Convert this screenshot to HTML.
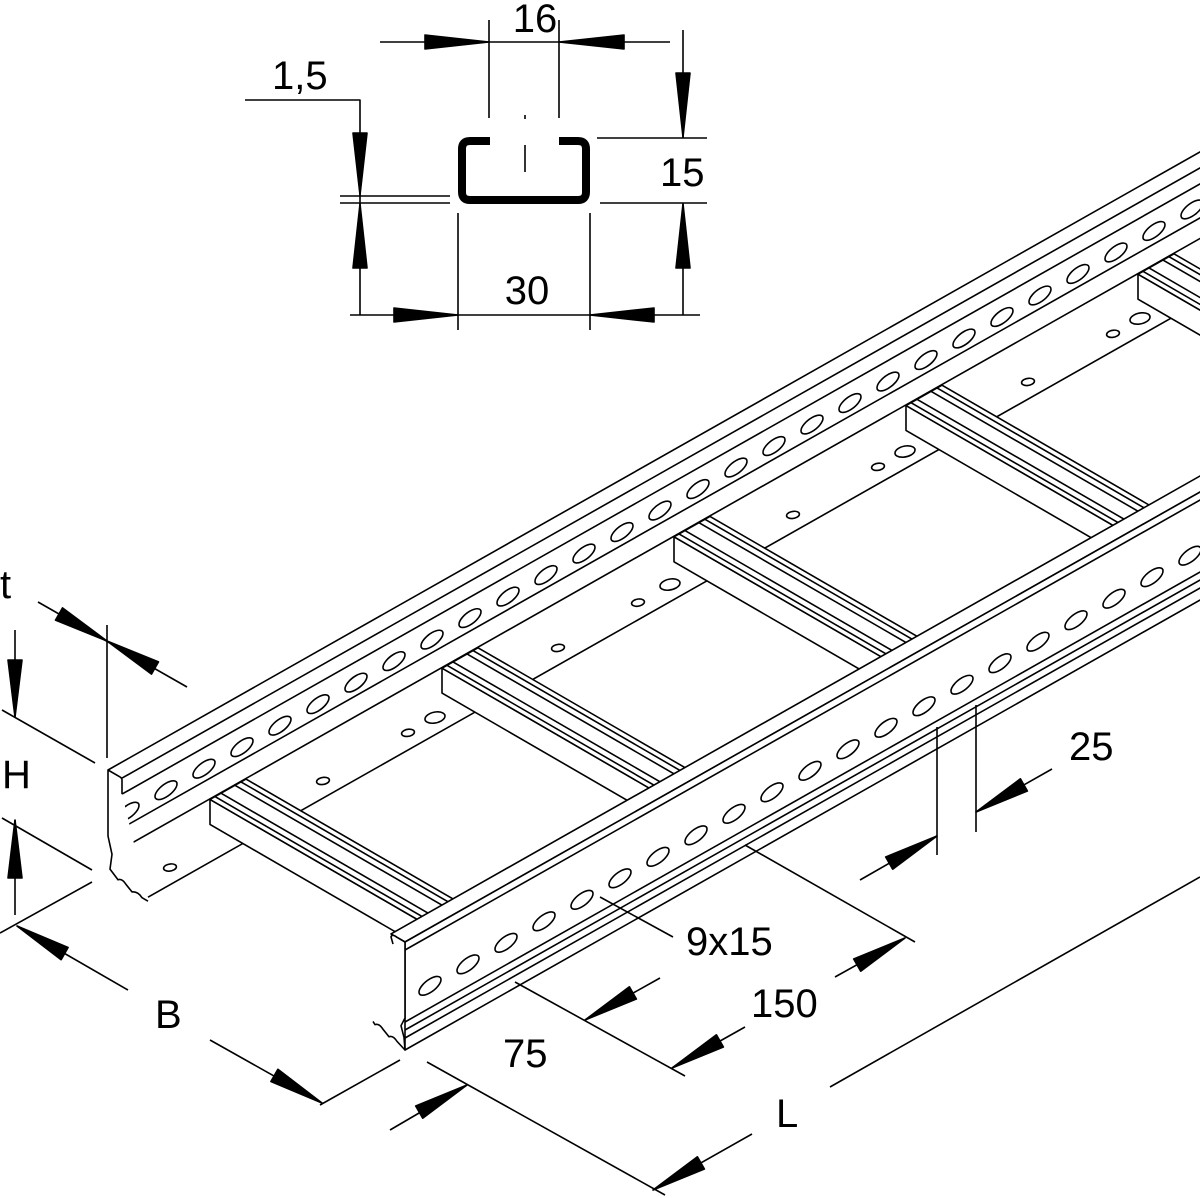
<!DOCTYPE html>
<html><head><meta charset="utf-8"><style>
html,body{margin:0;padding:0;background:#fff}
svg{display:block}
svg *{vector-effect:non-scaling-stroke}
text{font-family:"Liberation Sans",Arial,sans-serif;font-size:40px;fill:#000;stroke:none}
</style></head><body>
<svg width="1200" height="1198" viewBox="0 0 1200 1198" xmlns="http://www.w3.org/2000/svg" fill="none" stroke="#000" stroke-width="1.6" stroke-linejoin="round">
<rect x="0" y="0" width="1200" height="1198" fill="#fff" stroke="none"/>

<!-- ============ TOP PROFILE ============ -->
<path d="M490,141 L470,141 Q462,141 462,149 L462,192 Q462,200 470,200 L578,200 Q586,200 586,192 L586,149 Q586,141 578,141 L559,141" stroke-width="8" stroke-linejoin="round"/>
<line x1="525" y1="145" x2="525" y2="172"/>
<line x1="525" y1="115" x2="525" y2="119"/>
<!-- 16 -->
<line x1="380" y1="42" x2="670" y2="42"/>
<line x1="489" y1="20" x2="489" y2="118"/>
<line x1="559" y1="20" x2="559" y2="118"/>
<polygon points="489,42 425,35 425,49" fill="#000"/>
<polygon points="559,42 624,35 624,49" fill="#000"/>
<text x="535" y="32" text-anchor="middle">16</text>
<!-- 1,5 -->
<polyline points="245,100 360,100 360,315"/>
<line x1="340" y1="196" x2="450" y2="196"/>
<line x1="340" y1="203" x2="450" y2="203"/>
<polygon points="360,195 353,133 367,133" fill="#000"/>
<polygon points="360,204 353,268 367,268" fill="#000"/>
<text x="272" y="89">1,5</text>
<!-- 15 -->
<line x1="683" y1="30" x2="683" y2="138"/>
<line x1="683" y1="204" x2="683" y2="315"/>
<line x1="597" y1="138" x2="707" y2="138"/>
<line x1="600" y1="203" x2="707" y2="203"/>
<polygon points="683,137 676,73 690,73" fill="#000"/>
<polygon points="683,204 676,268 690,268" fill="#000"/>
<text x="660" y="186">15</text>
<!-- 30 -->
<line x1="350" y1="315" x2="700" y2="315"/>
<line x1="458" y1="213" x2="458" y2="330"/>
<line x1="590" y1="213" x2="590" y2="330"/>
<polygon points="458,315 394,308 394,322" fill="#000"/>
<polygon points="590,315 654,308 654,322" fill="#000"/>
<text x="527" y="304" text-anchor="middle">30</text>

<!-- ============ BACK RAIL ============ -->
<g transform="matrix(1,-0.566,0,1,108,770)">
  <line x1="0" y1="0" x2="1300" y2="0"/>
  <line x1="0" y1="66" x2="1300" y2="66"/>
  <g>
    <ellipse cx="20" cy="53" rx="11" ry="7"/><ellipse cx="58" cy="53" rx="11" ry="7"/><ellipse cx="96" cy="53" rx="11" ry="7"/><ellipse cx="134" cy="53" rx="11" ry="7"/><ellipse cx="172" cy="53" rx="11" ry="7"/><ellipse cx="210" cy="53" rx="11" ry="7"/><ellipse cx="248" cy="53" rx="11" ry="7"/><ellipse cx="286" cy="53" rx="11" ry="7"/><ellipse cx="324" cy="53" rx="11" ry="7"/><ellipse cx="362" cy="53" rx="11" ry="7"/><ellipse cx="400" cy="53" rx="11" ry="7"/><ellipse cx="438" cy="53" rx="11" ry="7"/><ellipse cx="476" cy="53" rx="11" ry="7"/><ellipse cx="514" cy="53" rx="11" ry="7"/><ellipse cx="552" cy="53" rx="11" ry="7"/><ellipse cx="590" cy="53" rx="11" ry="7"/><ellipse cx="628" cy="53" rx="11" ry="7"/><ellipse cx="666" cy="53" rx="11" ry="7"/><ellipse cx="704" cy="53" rx="11" ry="7"/><ellipse cx="742" cy="53" rx="11" ry="7"/><ellipse cx="780" cy="53" rx="11" ry="7"/><ellipse cx="818" cy="53" rx="11" ry="7"/><ellipse cx="856" cy="53" rx="11" ry="7"/><ellipse cx="894" cy="53" rx="11" ry="7"/><ellipse cx="932" cy="53" rx="11" ry="7"/><ellipse cx="970" cy="53" rx="11" ry="7"/><ellipse cx="1008" cy="53" rx="11" ry="7"/><ellipse cx="1046" cy="53" rx="11" ry="7"/><ellipse cx="1084" cy="53" rx="11" ry="7"/><ellipse cx="1122" cy="53" rx="11" ry="7"/>
  </g>
</g>
<g transform="matrix(1,-0.566,0,1,122,778.1)">
  <line x1="0" y1="0" x2="1300" y2="0"/>
  <line x1="0" y1="16" x2="1300" y2="16"/>
</g>
<g transform="matrix(1,-0.566,0,1,112,772.3)">
  <line x1="0" y1="82" x2="1300" y2="82"/>
</g>
<g transform="matrix(1,-0.566,0,1,148,793.2)">
  <line x1="0" y1="104" x2="1300" y2="104"/>
</g>
<!-- back rail end profile -->
<g transform="matrix(1,0.579,0,1,108,770)">
  <path d="M14,16 L14,2 Q14,0 12,0 L0,0 L0,66 L4,82 L2,98 L10,104 Q14,100 18,104 L24,108 Q30,104 34,108 L40,108" fill="#fff"/>
</g>
<!-- floor flange holes -->
<g transform="matrix(1,-0.566,1,0.579,108,874)">
  <ellipse cx="37" cy="25" rx="5" ry="4"/><ellipse cx="190" cy="25" rx="5" ry="4"/><ellipse cx="275" cy="25" rx="5" ry="4"/><ellipse cx="302" cy="25" rx="8" ry="6"/><ellipse cx="425" cy="25" rx="5" ry="4"/><ellipse cx="505" cy="25" rx="5" ry="4"/><ellipse cx="537" cy="25" rx="8" ry="6"/><ellipse cx="660" cy="25" rx="5" ry="4"/><ellipse cx="745" cy="25" rx="5" ry="4"/><ellipse cx="772" cy="25" rx="8" ry="6"/><ellipse cx="895" cy="25" rx="5" ry="4"/><ellipse cx="980" cy="25" rx="5" ry="4"/><ellipse cx="1007" cy="25" rx="8" ry="6"/>
</g>

<!-- ============ RUNGS ============ -->
<g transform="matrix(1,0.579,0,1,1123,195.5)"><polygon points="15,70 283,70 283,95 15,95" fill="#fff"/></g>
<g transform="matrix(1,-0.566,1,0.579,108,840)"><polygon points="1015,15 1051,15 1051,283 1015,283" fill="#fff"/><line x1="1020" y1="15" x2="1020" y2="283"/><line x1="1026" y1="15" x2="1026" y2="283"/><line x1="1040" y1="15" x2="1040" y2="283"/><line x1="1046" y1="15" x2="1046" y2="283"/></g>
<g transform="matrix(1,0.579,0,1,891,326.8)"><polygon points="15,70 283,70 283,95 15,95" fill="#fff"/></g>
<g transform="matrix(1,-0.566,1,0.579,108,840)"><polygon points="783,15 819,15 819,283 783,283" fill="#fff"/><line x1="788" y1="15" x2="788" y2="283"/><line x1="794" y1="15" x2="794" y2="283"/><line x1="808" y1="15" x2="808" y2="283"/><line x1="814" y1="15" x2="814" y2="283"/></g>
<g transform="matrix(1,0.579,0,1,659,458.1)"><polygon points="15,70 283,70 283,95 15,95" fill="#fff"/></g>
<g transform="matrix(1,-0.566,1,0.579,108,840)"><polygon points="551,15 587,15 587,283 551,283" fill="#fff"/><line x1="556" y1="15" x2="556" y2="283"/><line x1="562" y1="15" x2="562" y2="283"/><line x1="576" y1="15" x2="576" y2="283"/><line x1="582" y1="15" x2="582" y2="283"/></g>
<g transform="matrix(1,0.579,0,1,427,589.4)"><polygon points="15,70 283,70 283,95 15,95" fill="#fff"/></g>
<g transform="matrix(1,-0.566,1,0.579,108,840)"><polygon points="319,15 355,15 355,283 319,283" fill="#fff"/><line x1="324" y1="15" x2="324" y2="283"/><line x1="330" y1="15" x2="330" y2="283"/><line x1="344" y1="15" x2="344" y2="283"/><line x1="350" y1="15" x2="350" y2="283"/></g>
<g transform="matrix(1,0.579,0,1,195,720.8)"><polygon points="15,70 283,70 283,95 15,95" fill="#fff"/></g>
<g transform="matrix(1,-0.566,1,0.579,108,840)"><polygon points="87,15 123,15 123,283 87,283" fill="#fff"/><line x1="92" y1="15" x2="92" y2="283"/><line x1="98" y1="15" x2="98" y2="283"/><line x1="112" y1="15" x2="112" y2="283"/><line x1="118" y1="15" x2="118" y2="283"/></g>

<!-- ============ FRONT RAIL ============ -->
<g transform="matrix(1,-0.566,1,0.579,405,942)">
  <polygon points="0,-14 1100,-14 1100,0 0,0" fill="#fff"/>
</g>
<g transform="matrix(1,-0.566,0,1,405,942)">
  <polygon points="0,0 1100,0 1100,108 0,108" fill="#fff"/>
  <line x1="0" y1="8" x2="1100" y2="8"/>
  <line x1="0" y1="80" x2="1100" y2="80"/>
  <line x1="0" y1="88" x2="1100" y2="88"/>
  <line x1="0" y1="96" x2="1100" y2="96"/>
  <ellipse cx="25" cy="58" rx="11" ry="7"/><ellipse cx="63" cy="58" rx="11" ry="7"/><ellipse cx="101" cy="58" rx="11" ry="7"/><ellipse cx="139" cy="58" rx="11" ry="7"/><ellipse cx="177" cy="58" rx="11" ry="7"/><ellipse cx="215" cy="58" rx="11" ry="7"/><ellipse cx="253" cy="58" rx="11" ry="7"/><ellipse cx="291" cy="58" rx="11" ry="7"/><ellipse cx="329" cy="58" rx="11" ry="7"/><ellipse cx="367" cy="58" rx="11" ry="7"/><ellipse cx="405" cy="58" rx="11" ry="7"/><ellipse cx="443" cy="58" rx="11" ry="7"/><ellipse cx="481" cy="58" rx="11" ry="7"/><ellipse cx="519" cy="58" rx="11" ry="7"/><ellipse cx="557" cy="58" rx="11" ry="7"/><ellipse cx="595" cy="58" rx="11" ry="7"/><ellipse cx="633" cy="58" rx="11" ry="7"/><ellipse cx="671" cy="58" rx="11" ry="7"/><ellipse cx="709" cy="58" rx="11" ry="7"/><ellipse cx="747" cy="58" rx="11" ry="7"/><ellipse cx="785" cy="58" rx="11" ry="7"/><ellipse cx="823" cy="58" rx="11" ry="7"/><ellipse cx="861" cy="58" rx="11" ry="7"/>
</g>
<g transform="matrix(1,0.579,0,1,405,942)">
  <path d="M-12,9 L-14,3 Q-13,-1 -8,0 L0,0 L0,76 L-4,86 L-1,96 L0,108 L-8,104 Q-12,100 -16,104 L-22,100 Q-26,96 -30,100 L-32,98" fill="#fff"/>
</g>

<!-- ============ DIMENSIONS ============ -->
<line x1="107" y1="625" x2="107" y2="758"/>
<line x1="38" y1="602" x2="187" y2="687"/>
<polygon points="107,641 55.5,620.1 62.5,607.9" fill="#000"/>
<polygon points="107,641 151.5,674.1 158.5,661.9" fill="#000"/>
<text x="0" y="598">t</text>
<line x1="2" y1="710" x2="95" y2="763"/>
<line x1="2" y1="818" x2="92" y2="870"/>
<line x1="15" y1="630" x2="15" y2="717"/>
<line x1="15" y1="820" x2="15" y2="915"/>
<polygon points="15,717 8,660 22,660" fill="#000"/>
<polygon points="15,820 8,878 22,878" fill="#000"/>
<text x="2" y="788">H</text>
<line x1="0" y1="933" x2="92" y2="882"/>
<line x1="320" y1="1105" x2="400" y2="1060"/>
<line x1="17" y1="926" x2="128" y2="990"/>
<line x1="210" y1="1040" x2="322" y2="1103"/>
<polygon points="17,926 61.1,959.7 68.1,947.5" fill="#000"/>
<polygon points="322,1103 270.9,1081.5 277.9,1069.3" fill="#000"/>
<text x="155" y="1028">B</text>
<line x1="515" y1="982" x2="685" y2="1076"/>
<line x1="427" y1="1062" x2="665" y2="1195"/>
<line x1="745" y1="845" x2="915" y2="942"/>
<line x1="830" y1="1087" x2="1200" y2="877"/>
<line x1="390" y1="1130" x2="467" y2="1085"/>
<polygon points="467,1085 422.7,1118.2 415.7,1106" fill="#000"/>
<line x1="585" y1="1020" x2="660" y2="978"/>
<polygon points="585,1020 636.4,999 629.4,986.8" fill="#000"/>
<text x="503" y="1067">75</text>
<line x1="672" y1="1068" x2="745" y2="1027"/>
<polygon points="672,1068 723.4,1047 716.4,1034.8" fill="#000"/>
<line x1="835" y1="977" x2="905" y2="938"/>
<polygon points="905,938 860.7,971.2 853.7,959" fill="#000"/>
<text x="751" y="1017">150</text>
<line x1="653" y1="1190" x2="752" y2="1134"/>
<polygon points="653,1190 704.4,1169 697.4,1156.8" fill="#000"/>
<text x="776" y="1127">L</text>
<line x1="937" y1="727" x2="937" y2="855"/>
<line x1="976" y1="705" x2="976" y2="832"/>
<line x1="860" y1="880" x2="937" y2="836"/>
<polygon points="937,836 892.7,869.2 885.7,857" fill="#000"/>
<line x1="976" y1="812" x2="1052" y2="769"/>
<polygon points="976,812 1027.4,791 1020.4,778.8" fill="#000"/>
<text x="1069" y="760">25</text>
<line x1="600" y1="897" x2="673" y2="937"/>
<text x="686" y="955">9x15</text>
</svg>
</body></html>
